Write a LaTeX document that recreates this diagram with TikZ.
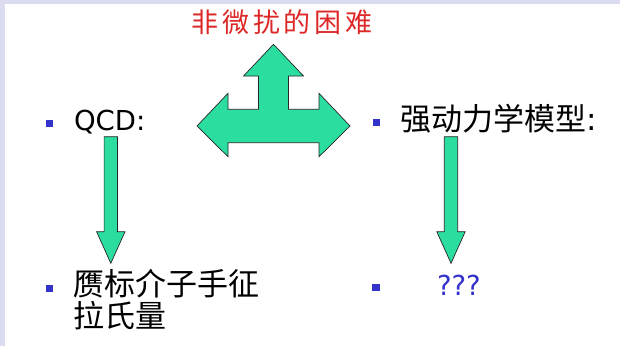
\documentclass[tikz,border=0pt]{standalone}
\usepackage{fontspec}
\setmainfont{DejaVu Sans}
\newfontfamily\cjk{Noto Sans CJK SC}
\newfontfamily\cjktitle[LetterSpace=14]{Noto Sans CJK SC}
\definecolor{bandcol}{RGB}{220,220,240}
\definecolor{mint}{RGB}{44,221,160}
\definecolor{bulletblue}{RGB}{51,51,204}
\definecolor{titlered}{RGB}{222,40,40}
\tikzset{
  blockarrow/.style={fill=mint, draw=black!85, line width=0.7pt, line join=miter},
  bulletsq/.style={fill=bulletblue, minimum size=7.5pt, inner sep=0pt, outer sep=0pt},
  label/.style={inner sep=0pt, outer sep=0pt, anchor=base west},
  downarrow/.pic={
    \path[blockarrow] (-6.7,0) -- (6.7,0) -- (6.7,95) -- (14.2,95) -- (0,126.6)
      -- (-14.2,95) -- (-6.7,95) -- cycle;
  }
}
\begin{document}
\begin{tikzpicture}[x=1pt,y=-1pt]
\useasboundingbox (0,0) rectangle (620,346);
\fill[white] (0,0) rectangle (620,346);
\fill[bandcol] (0,0) rectangle (620,4);
\fill[bandcol] (0,0) rectangle (5,346);

% title
\node[inner sep=0pt, anchor=base, text=titlered, font=\cjktitle\fontsize{27}{29}\selectfont]
  (title) at (282,32.5) {非微扰的困难};

% triple block arrow
\path[blockarrow] (273.5,44.3) -- (303.5,76) -- (288.5,76) -- (288.5,109.3)
  -- (319,109.3) -- (319,93.3) -- (350,126) -- (319,156.7) -- (319,142.7)
  -- (228,142.7) -- (228,156.7) -- (197,126) -- (228,93.3) -- (228,109.3)
  -- (258.5,109.3) -- (258.5,76) -- (243.5,76) -- cycle;

% bullets
\node[bulletsq] (b1) at (49.5,123.5) {};
\node[bulletsq] (b2) at (49.5,288.5) {};
\node[bulletsq] (b3) at (376.5,122.5) {};
\node[bulletsq] (b4) at (376,287.5) {};

% texts
\node[label, font=\fontsize{27.5}{29}\selectfont] (qcd) at (74,130) {QCD:};
\node[label, font=\fontsize{31}{33}\selectfont] (model) at (400,130) {{\cjk 强动力学模型}:};
\node[label, font=\cjk\fontsize{31}{33}\selectfont] (chiral) at (73,295) {赝标介子手征};
\node[label, font=\cjk\fontsize{31}{33}\selectfont] (chiral2) at (73,327) {拉氏量};
\node[label, text=bulletblue, font=\fontsize{27.5}{29}\selectfont] (qqq) at (437,295) {???};

% down arrows
\pic at (110.8,136.7) {downarrow};
\pic at (451,136.7) {downarrow};
\end{tikzpicture}
\end{document}
